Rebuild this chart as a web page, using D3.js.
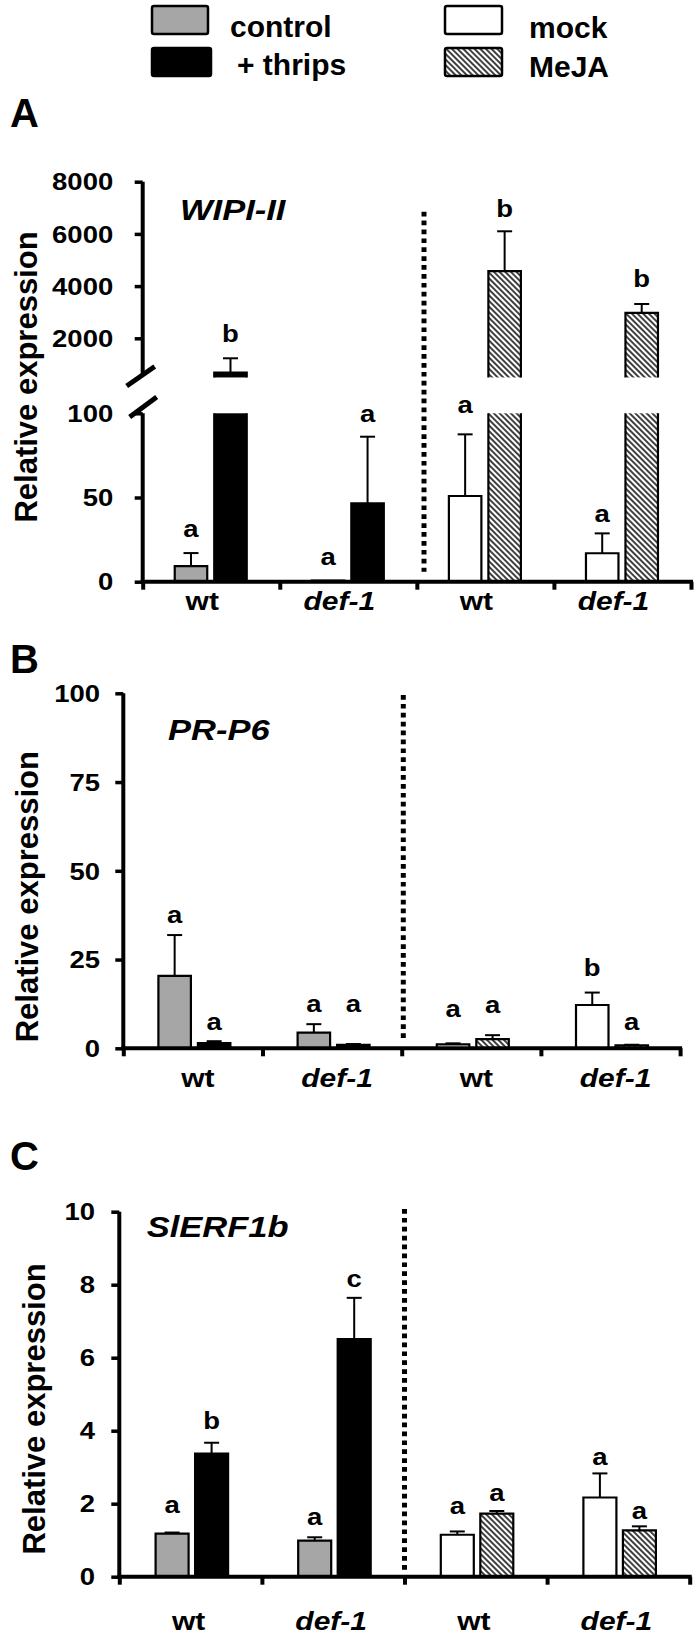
<!DOCTYPE html>
<html><head><meta charset="utf-8">
<script src="https://cdn.jsdelivr.net/npm/d3@7"></script>
<style>
body{margin:0;background:#fff}
svg{display:block}
text{font-family:"Liberation Sans",Arial,sans-serif;font-weight:bold;fill:#000}
</style>
</head><body><svg id="fig" width="700" height="1636"></svg>
<script>
// ---------- data ----------
const genotypes = ["wt", "def-1", "wt", "def-1"];
const treatments = ["control", "+ thrips", "mock", "MeJA"];

// Panel A: WIPI-II (broken axis)
const ticksAUpper = [2000, 4000, 6000, 8000];
const ticksALower = [0, 50, 100];
const meansA   = [9.2, 682, 0.6, 46.6, 50.9, 4570, 16.9, 2975];
const errA     = [7.8, 552, 0, 39.5, 36.6, 1530, 11.8, 339];
const lettersA = ["a", "b", "a", "a", "a", "b", "a", "b"];
const letterAtA = [26.7, 1870, 9.9, 95, 100, 6659, 35.6, 3977];

// Panel B: PR-P6
const ticksB = [0, 25, 50, 75, 100];
const meansB   = [20.4, 1.5, 4.4, 1.0, 1.1, 2.6, 12.2, 0.8];
const errB     = [11.5, 0.5, 2.4, 0.2, 0.3, 1.1, 3.5, 0.2];
const lettersB = ["a", "a", "a", "a", "a", "a", "b", "a"];
const letterAtB = [35.2, 5.2, 10.2, 10.2, 8.9, 9.9, 20.4, 5.2];

// Panel C: SlERF1b
const ticksC = [0, 2, 4, 6, 8, 10];
const meansC   = [1.18, 3.37, 0.99, 6.51, 1.15, 1.73, 2.17, 1.27];
const errC     = [0.03, 0.30, 0.09, 1.13, 0.09, 0.07, 0.66, 0.11];
const lettersC = ["a", "b", "a", "c", "a", "a", "a", "a"];
const letterAtC = [1.75, 4.05, 1.42, 7.93, 1.72, 2.08, 3.07, 1.57];

// ---------- styles ----------
const fills = {"control": "#a6a6a6", "+ thrips": "#000", "mock": "#fff", "MeJA": "url(#hatch)"};

const svg = d3.select("#fig");
const defs = svg.append("defs");
const pat = defs.append("pattern").attr("id", "hatch").attr("patternUnits", "userSpaceOnUse")
  .attr("width", 4).attr("height", 10).attr("patternTransform", "rotate(-45)");
pat.append("rect").attr("width", 4).attr("height", 10).attr("fill", "#fff");
pat.append("line").attr("x1", 1).attr("x2", 1).attr("y1", 0).attr("y2", 10)
  .attr("stroke", "#000").attr("stroke-width", 1.5);

function stext(g, x, y, str, size, sx, anchor, italic) {
  return g.append("text")
    .attr("transform", `translate(${x},${y}) scale(${sx},1)`)
    .attr("text-anchor", anchor)
    .style("font-size", size + "px")
    .style("font-style", italic ? "italic" : "normal")
    .text(str);
}

// ---------- legend ----------
const leg = svg.append("g");
const legendItems = [
  {t: treatments[0], x: 152, y: 6, w: 56, tx: 230, ty: 37},
  {t: treatments[1], x: 152, y: 48, w: 59, tx: 237, ty: 75},
  {t: treatments[2], x: 445, y: 6, w: 57, tx: 529, ty: 38},
  {t: treatments[3], x: 445, y: 48, w: 57, tx: 529, ty: 77}
];
legendItems.forEach(d => {
  leg.append("rect").attr("x", d.x).attr("y", d.y).attr("width", d.w).attr("height", 28)
    .attr("rx", 2).attr("fill", fills[d.t]).attr("stroke", "#000").attr("stroke-width", 2.5);
  leg.append("text").attr("x", d.tx).attr("y", d.ty).style("font-size", "30px").text(d.t);
});

// ---------- panel drawer ----------
function drawPanel(cfg) {
  const g = svg.append("g");
  const xb = d3.scaleLinear().domain([0, 4]).range([cfg.x0, cfg.x1]);
  const band = d3.scaleBand().domain(d3.range(4)).range([cfg.x0, cfg.x1]);
  const yL = cfg.yL, yU = cfg.yU;
  const isUpper = v => cfg.broken && v > cfg.lowMax;
  const yOf = (v, upper) => upper ? yU(v) : yL(v);

  // bars
  cfg.means.forEach((m, k) => {
    const gi = Math.floor(k / 2), j = k % 2;
    const c = band(gi) + band.bandwidth() / 2;
    const w = cfg.barW;
    const bx = c - 36 + cfg.shift + j * 39.5;
    const tr = treatments[(gi < 2 ? 0 : 2) + j];
    const fill = fills[tr];
    const segs = [];
    if (isUpper(m)) {
      segs.push({top: yL(cfg.lowMax), bot: yL(0), open: "top"});
      segs.push({top: yU(m), bot: yU(cfg.cut), open: "bottom"});
    } else {
      segs.push({top: yL(m), bot: yL(0), open: "none"});
    }
    segs.forEach(s => {
      g.append("rect").attr("x", bx).attr("y", s.top).attr("width", w)
        .attr("height", Math.max(0, s.bot - s.top)).attr("fill", fill);
      let p;
      if (s.open === "top") p = `M${bx},${s.top}L${bx},${s.bot}L${bx + w},${s.bot}L${bx + w},${s.top}`;
      else if (s.open === "bottom") p = `M${bx},${s.bot}L${bx},${s.top}L${bx + w},${s.top}L${bx + w},${s.bot}`;
      else p = `M${bx},${s.bot}L${bx},${s.top}L${bx + w},${s.top}L${bx + w},${s.bot}Z`;
      g.append("path").attr("d", p).attr("fill", "none").attr("stroke", "#000").attr("stroke-width", 2.2);
    });
    // error bar
    const e = cfg.err[k];
    const up = isUpper(m);
    const cx = bx + w / 2;
    if (e > 0) {
      const y1 = yOf(m, up), y2 = yOf(m + e, up);
      g.append("line").attr("x1", cx).attr("x2", cx).attr("y1", y1).attr("y2", y2)
        .attr("stroke", "#000").attr("stroke-width", 2);
      g.append("line").attr("x1", cx - 7.5).attr("x2", cx + 7.5).attr("y1", y2).attr("y2", y2)
        .attr("stroke", "#000").attr("stroke-width", 2);
    }
    // letter
    stext(g, cx, yOf(cfg.letterAt[k], up), cfg.letters[k], 23.5, 1.17, "middle", false);
  });

  // dotted separator
  g.append("line").attr("x1", cfg.dotX).attr("x2", cfg.dotX).attr("y1", cfg.dotTop).attr("y2", cfg.dotBot)
    .attr("stroke", "#000").attr("stroke-width", 5).attr("stroke-dasharray", "4.7,4.2");

  // y axis (lower / main)
  const yAxisLines = [];
  function yAxis(scale, ticks, top, bot) {
    const ga = g.append("g").attr("transform", `translate(${cfg.x0},0)`)
      .call(d3.axisLeft(scale).tickValues(ticks).tickSize(8).tickSizeOuter(0).tickFormat(d3.format("d")));
    ga.select(".domain").remove();
    ga.selectAll(".tick line").attr("stroke", "#000").attr("stroke-width", 3.5);
    ga.selectAll(".tick text").attr("x", -cfg.gap / 1.17).attr("dy", "0.35em")
      .attr("transform", "scale(1.17,1)").attr("fill", "#000").style("font-size", "23.5px");
    g.append("line").attr("x1", cfg.x0).attr("x2", cfg.x0).attr("y1", top).attr("y2", bot)
      .attr("stroke", "#000").attr("stroke-width", 4);
  }
  yAxis(yL, cfg.ticks, yL(cfg.ticks[cfg.ticks.length - 1]), yL(0) + 2);
  if (cfg.broken) {
    yAxis(yU, cfg.ticksU, yU(cfg.ticksU[cfg.ticksU.length - 1]), cfg.upperAxisEnd);
    // break marks
    g.append("line").attr("x1", cfg.x0 - 16).attr("y1", cfg.brk1 + 10).attr("x2", cfg.x0 + 12).attr("y2", cfg.brk1 - 9.5)
      .attr("stroke", "#000").attr("stroke-width", 5);
    g.append("line").attr("x1", cfg.x0 - 13).attr("y1", cfg.brk2 + 10).attr("x2", cfg.x0 + 14).attr("y2", cfg.brk2 - 10)
      .attr("stroke", "#000").attr("stroke-width", 5);
  }

  // x axis
  const y0 = yL(0);
  const gx = g.append("g").attr("transform", `translate(0,${y0})`)
    .call(d3.axisBottom(xb).tickValues([0, 1, 2, 3, 4]).tickSize(8).tickSizeOuter(0).tickFormat(""));
  gx.select(".domain").remove();
  gx.selectAll(".tick line").attr("stroke", "#000").attr("stroke-width", 4);
  g.append("line").attr("x1", cfg.x0 - 2).attr("x2", cfg.x1 + 2).attr("y1", y0).attr("y2", y0)
    .attr("stroke", "#000").attr("stroke-width", 4);

  // category labels
  genotypes.forEach((lab, i) => {
    const c = band(i) + band.bandwidth() / 2;
    stext(g, c + cfg.labDx, cfg.labY, lab, 25, 1.2, "middle", lab !== "wt");
  });

  // gene name
  stext(g, cfg.geneX, cfg.geneY, cfg.gene, 29.5, 1.17, "start", true);

  // y title
  g.append("text").attr("transform", `translate(${cfg.titleX},${cfg.titleY}) rotate(-90)`)
    .attr("text-anchor", "middle").style("font-size", "31px").text("Relative expression");

  // panel letter
  g.append("text").attr("x", cfg.letterX).attr("y", cfg.letterY).style("font-size", "40px").text(cfg.panel);
}

drawPanel({
  panel: "A", letterX: 10, letterY: 127,
  gene: "WIPI-II", geneX: 180, geneY: 220,
  x0: 142.7, x1: 691,
  yL: d3.scaleLinear().domain([0, 100]).range([581.7, 413.3]),
  yU: d3.scaleLinear().domain([0, 8000]).range([390.5, 181.7]),
  broken: true, lowMax: 100, cut: 500, upperAxisEnd: 376,
  brk1: 376, brk2: 407,
  ticks: ticksALower, ticksU: ticksAUpper,
  means: meansA, err: errA, letters: lettersA, letterAt: letterAtA,
  barW: 32.5, shift: -0.5, gap: 29.5,
  dotX: 424, dotTop: 211.7, dotBot: 571.7,
  labY: 610, labDx: -9,
  titleX: 36.7, titleY: 377
});

drawPanel({
  panel: "B", letterX: 10, letterY: 673,
  gene: "PR-P6", geneX: 168, geneY: 740,
  x0: 123.3, x1: 680.1,
  yL: d3.scaleLinear().domain([0, 100]).range([1048.3, 693.3]),
  broken: false,
  ticks: ticksB,
  means: meansB, err: errB, letters: lettersB, letterAt: letterAtB,
  barW: 32.5, shift: 1.5, gap: 23.3,
  dotX: 403.3, dotTop: 695, dotBot: 1041.7,
  labY: 1086.7, labDx: 5,
  titleX: 38.3, titleY: 896.7
});

drawPanel({
  panel: "C", letterX: 10, letterY: 1170,
  gene: "SlERF1b", geneX: 146.7, geneY: 1237.3,
  x0: 119.3, x1: 689.7,
  yL: d3.scaleLinear().domain([0, 10]).range([1576.7, 1211.7]),
  broken: false,
  ticks: ticksC,
  means: meansC, err: errC, letters: lettersC, letterAt: letterAtC,
  barW: 33, shift: 1, gap: 24.3,
  dotX: 404.5, dotTop: 1209, dotBot: 1572,
  labY: 1630, labDx: -2,
  titleX: 45, titleY: 1409
});
</script>
</body></html>
